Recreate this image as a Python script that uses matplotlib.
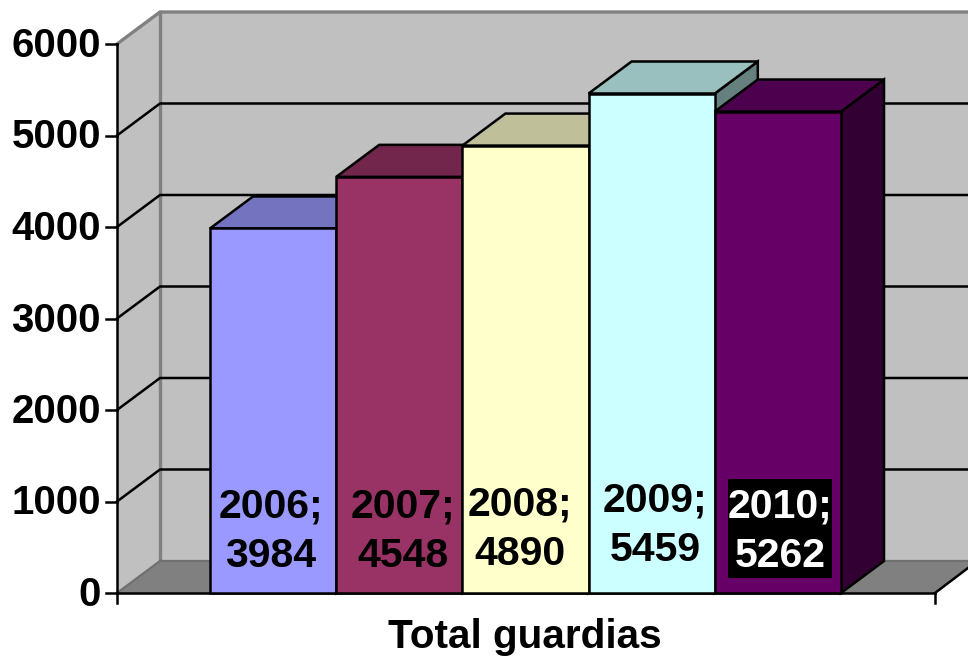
import matplotlib
matplotlib.use("Agg")
import matplotlib.pyplot as plt
from matplotlib.patches import Polygon, Rectangle

plt.rcParams['font.family'] = ['Liberation Sans', 'DejaVu Sans']

years = ["2006", "2007", "2008", "2009", "2010"]
values = [3984, 4548, 4890, 5459, 5262]
front_colors = ["#9999FF", "#993366", "#FFFFCC", "#CCFFFF", "#660066"]
top_colors = ["#7373BF", "#73264C", "#BFBF99", "#99BFBF", "#4D004D"]
side_colors = ["#4D4D80", "#4D1A33", "#808066", "#668080", "#330033"]
text_colors = ["black", "black", "black", "black", "white"]
yticks = [0, 1000, 2000, 3000, 4000, 5000, 6000]
xlabel = "Total guardias"

# label centres in pixels
label_pos = [(271, 531), (403, 531), (520, 529), (655, 525), (780, 531)]

fig = plt.figure(figsize=(9.68, 6.58), dpi=100)
ax = fig.add_axes([0, 0, 1, 1])
ax.set_xlim(0, 968)
ax.set_ylim(658, 0)
ax.axis("off")

# pixel geometry of the 3d box
x0, x1 = 117, 935
y0, y6 = 593, 44
dx, dy = 43, -32


def vy(v):
    return y0 + (y6 - y0) * v / 6000


# back wall, side wall, floor
ax.add_patch(Polygon([(x0 + dx, y6 + dy), (968, y6 + dy), (968, y0 + dy), (x0 + dx, y0 + dy)],
                     fc="#C0C0C0", ec="none", zorder=1))
ax.add_patch(Polygon([(x0, y6), (x0 + dx, y6 + dy), (x0 + dx, y0 + dy), (x0, y0)],
                     fc="#C0C0C0", ec="none", zorder=1))
ax.add_patch(Polygon([(x0, y0), (x0 + dx, y0 + dy), (968, y0 + dy), (968, y0 - 25), (x1, y0)],
                     fc="#808080", ec="none", zorder=1))

# wall edges
ax.plot([x0, x0 + dx, 968], [y6, y6 + dy, y6 + dy], color="#808080", lw=2.4, zorder=2)
ax.plot([x0 + dx, x0 + dx], [y6 + dy, y0 + dy], color="#808080", lw=2.4, zorder=2)
ax.plot([x0 + dx, 968], [y0 + dy, y0 + dy], color="#707070", lw=1.6, zorder=2)
ax.plot([x0, x0 + dx], [y0, y0 + dy], color="#707070", lw=1.6, zorder=2)

# gridlines
for t in yticks[1:-1]:
    y = vy(t)
    ax.plot([x0, x0 + dx, 968], [y, y + dy, y + dy], color="black", lw=1.8, zorder=2)
ax.plot([x1, 968], [y0, y0 - 25], color="black", lw=1.8, zorder=2)

# axes and ticks
ax.plot([x0, x0], [y6, y0 + 10], color="black", lw=1.8, zorder=3)
ax.plot([x0, x1], [y0, y0], color="black", lw=1.8, zorder=3)
ax.plot([x1, x1], [y0, y0 + 10], color="black", lw=1.8, zorder=3)
for t in yticks:
    y = vy(t)
    ax.plot([x0 - 11, x0], [y, y], color="black", lw=1.8, zorder=3)
    ax.text(101, y + 2, str(t), ha="right", va="center", fontsize=29, fontweight="bold")

# bars
bar_left = 210
bar_w = 126.2
for i, v in enumerate(values):
    l = bar_left + i * bar_w
    r = l + bar_w
    t = vy(v)
    z = 4 + i
    ax.add_patch(Polygon([(r, y0), (r + dx, y0 + dy), (r + dx, t + dy), (r, t)],
                         fc=side_colors[i], ec="black", lw=1.8, zorder=z))
    ax.add_patch(Polygon([(l, t), (l + dx, t + dy), (r + dx, t + dy), (r, t)],
                         fc=top_colors[i], ec="black", lw=1.8, zorder=z))
    ax.add_patch(Rectangle((l, t), bar_w, y0 - t, fc=front_colors[i], ec="black", lw=1.8, zorder=z))

# black box behind the 2010 label
ax.add_patch(Rectangle((728, 479), 104, 99, fc="black", ec="none", zorder=19))

# data labels
for i, v in enumerate(values):
    px, py = label_pos[i]
    ax.text(px, py, f"{years[i]};\n{v}", ha="center", va="center", fontsize=29.5,
            fontweight="bold", color=text_colors[i], linespacing=1.38, zorder=20)

ax.text(525, 637, xlabel, ha="center", va="center", fontsize=29.2, fontweight="bold")

fig.savefig("out.png", dpi=100)
plt.close(fig)
